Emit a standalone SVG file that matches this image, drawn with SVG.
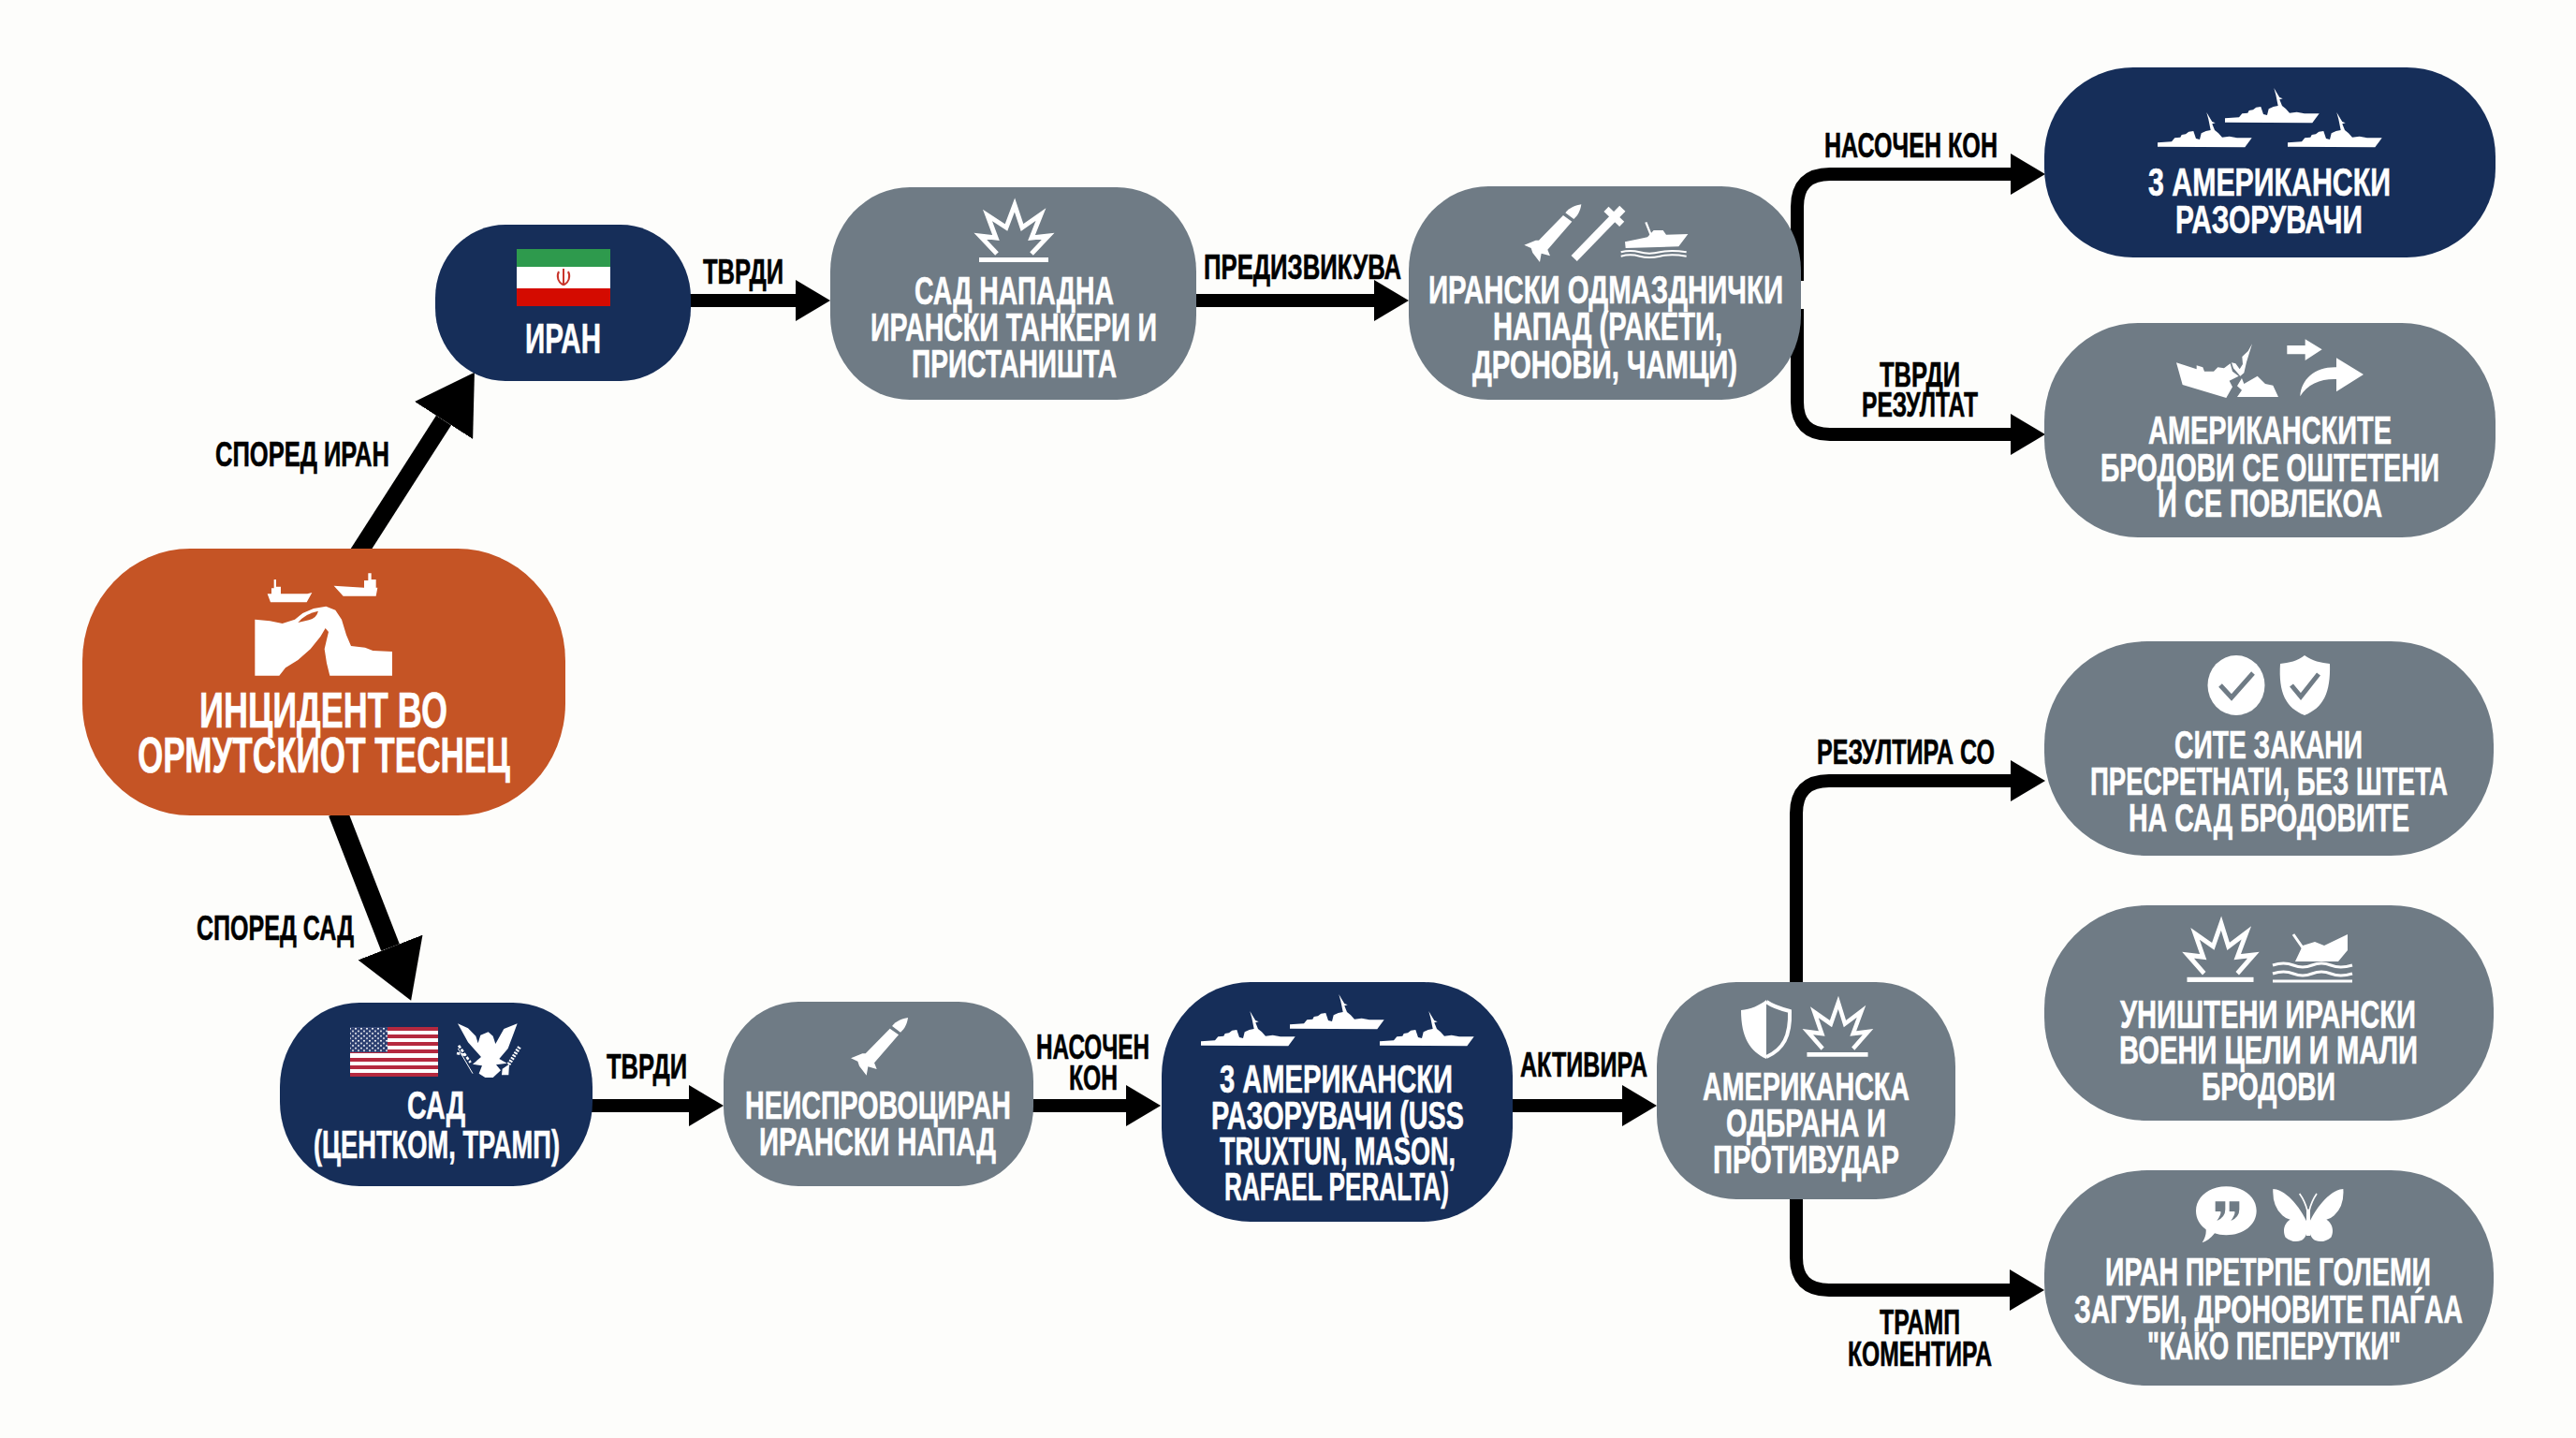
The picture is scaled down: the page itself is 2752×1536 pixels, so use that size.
<svg xmlns="http://www.w3.org/2000/svg" width="2752" height="1536" viewBox="0 0 2752 1536">
<style>
text{font-family:"Liberation Sans Narrow","Liberation Sans",Arial,sans-serif;font-weight:700}
.t{fill:#fff;stroke:#fff;stroke-width:.6px;font-size:42px}
.l{fill:#000;stroke:#000;stroke-width:.6px;font-size:37px}
.navy{fill:#162e59}.gray{fill:#6f7b85}.orange{fill:#c55425}
.conn{fill:none;stroke:#000;stroke-width:14}
.w{fill:#fff}.wl{fill:none;stroke:#fff}.gl{fill:none;stroke:#6f7b85}
</style>
<defs>
<marker id="ah" markerUnits="userSpaceOnUse" markerWidth="38" markerHeight="44" refX="0" refY="22" orient="auto"><path d="M0 0L37 22L0 44Z"/></marker>
<marker id="ab" markerUnits="userSpaceOnUse" markerWidth="62" markerHeight="74" refX="0" refY="37" orient="auto"><path d="M0 0L61 37L0 74Z"/></marker>
<path id="ship" d="M0 32.300L15 31.300L18.300 27.300L24.300 26.700L25.700 24L30 23.300L33.300 20.700L38.300 20L41 28L45 29L46.700 22.300L51.700 20L56.700 19L54.300 7.300L52.300 0L55.700 5.700L58.300 10L61.700 11.300L58.300 12.300L61 19L65 22.300L69 26.700L76.700 25.700L85 27.300H100.700L93.300 37.300L0 36.700Z"/>
<g id="burst"><path class="wl" stroke-width="5" stroke-miterlimit="10" d="M-18 56L-36 37L-19 39L-28 15L-8 28L1 4L9 28L29 14L19 39L37 37L19 56"/><rect class="w" x="-37" y="60" width="74" height="5"/></g>
<g id="rocket"><path class="w" d="M157 52C170 35 190 28 208 25C205 45 198 60 184 72Z"/><path class="w" d="M150 60L178 80L100 170L108 190L80 182L75 210L52 180L47 165L25 155L62 140L72 140Z"/></g>
<pattern id="stars" patternUnits="userSpaceOnUse" width="6" height="5.200"><circle cx="2" cy="1.600" r="1" fill="#fff"/><circle cx="5" cy="4.200" r="1" fill="#fff"/></pattern>
</defs>
<rect width="2752" height="1536" fill="#fdfdfb"/>
<g id="connectors">
<path class="conn" style="stroke-width:19" marker-end="url(#ab)" d="M381 594L474 449"/>
<path class="conn" style="stroke-width:21" marker-end="url(#ab)" d="M361 868L417 1012"/>
<path class="conn" marker-end="url(#ah)" d="M730 321H850"/>
<path class="conn" marker-end="url(#ah)" d="M1270 321H1468"/>
<path class="conn" marker-end="url(#ah)" d="M1920 300V221Q1920 186 1955 186H2148"/>
<path class="conn" marker-end="url(#ah)" d="M1920 330V429Q1920 464 1955 464H2148"/>
<path class="conn" marker-end="url(#ah)" d="M625 1181H736"/>
<path class="conn" marker-end="url(#ah)" d="M1096 1181H1203"/>
<path class="conn" marker-end="url(#ah)" d="M1610 1181H1733"/>
<path class="conn" marker-end="url(#ah)" d="M1919 1060V869Q1919 834 1954 834H2148"/>
<path class="conn" marker-end="url(#ah)" d="M1919 1270V1343Q1919 1378 1954 1378H2147"/>
</g>
<g id="edge-labels">
<text class="l" x="230" y="498" textLength="186" lengthAdjust="spacingAndGlyphs">СПОРЕД ИРАН</text>
<text class="l" x="210" y="1004" textLength="168" lengthAdjust="spacingAndGlyphs">СПОРЕД САД</text>
<text class="l" x="751" y="303" textLength="86" lengthAdjust="spacingAndGlyphs">ТВРДИ</text>
<text class="l" x="1286" y="298" textLength="211" lengthAdjust="spacingAndGlyphs">ПРЕДИЗВИКУВА</text>
<text class="l" x="1949" y="168" textLength="185" lengthAdjust="spacingAndGlyphs">НАСОЧЕН КОН</text>
<text class="l" x="2008" y="413" textLength="86" lengthAdjust="spacingAndGlyphs">ТВРДИ</text>
<text class="l" x="1989" y="445" textLength="124" lengthAdjust="spacingAndGlyphs">РЕЗУЛТАТ</text>
<text class="l" x="648" y="1152" textLength="86" lengthAdjust="spacingAndGlyphs">ТВРДИ</text>
<text class="l" x="1107" y="1131" textLength="121" lengthAdjust="spacingAndGlyphs">НАСОЧЕН</text>
<text class="l" x="1142" y="1164" textLength="52" lengthAdjust="spacingAndGlyphs">КОН</text>
<text class="l" x="1624" y="1150" textLength="136" lengthAdjust="spacingAndGlyphs">АКТИВИРА</text>
<text class="l" x="1941" y="816" textLength="190" lengthAdjust="spacingAndGlyphs">РЕЗУЛТИРА СО</text>
<text class="l" x="2008" y="1425" textLength="86" lengthAdjust="spacingAndGlyphs">ТРАМП</text>
<text class="l" x="1974" y="1459" textLength="154" lengthAdjust="spacingAndGlyphs">КОМЕНТИРА</text>
</g>
<g id="node-incident">
<rect class="orange" x="88" y="586" width="516" height="285" rx="115" ry="120"/>
<g transform="translate(265 605) scale(.33333)">
<path class="w" d="M22 170L70 175L110 183L150 170L175 150L210 135L250 128L280 140L300 170L315 220L330 255L375 260L400 270L462 273V350H262L252 310L245 265L252 235L258 210L248 198L232 225L200 265L160 300L120 325L100 350H22Z"/>
<path class="orange" d="M160 180Q185 150 225 143Q220 165 195 172Z"/>
<path class="w" d="M62 88H75V70H83V42H90V65H105V88H190L205 84L188 115H72Z"/>
<path class="w" d="M275 62L372 68V45H385V22H395V42H410V68H415L410 95H305Z"/>
</g>
<text class="t" style="font-size:53px" x="213" y="777" textLength="265" lengthAdjust="spacingAndGlyphs">ИНЦИДЕНТ ВО</text>
<text class="t" style="font-size:53px" x="147" y="825" textLength="398" lengthAdjust="spacingAndGlyphs">ОРМУТСКИОТ ТЕСНЕЦ</text>
</g>
<g id="node-iran">
<rect class="navy" x="465" y="240" width="273" height="167" rx="75" ry="78"/>
<rect x="552" y="266" width="100" height="19" fill="#2e9a4d"/><rect x="552" y="285" width="100" height="23" fill="#fff"/><rect x="552" y="308" width="100" height="19" fill="#d40b00"/>
<path fill="none" stroke="#c8352b" stroke-width="2" d="M602 287V305M597 290C594 296 597 302 601 304M607 290C610 296 607 302 603 304"/>
<text class="t" style="font-size:45px" x="561" y="377" textLength="81" lengthAdjust="spacingAndGlyphs">ИРАН</text>
</g>
<g id="node-us-attack">
<rect class="gray" x="887" y="200" width="391" height="227" rx="85" ry="90"/>
<use href="#burst" transform="translate(1083 215)"/>
<text class="t" x="977" y="325" textLength="213" lengthAdjust="spacingAndGlyphs">САД НАПАДНА</text>
<text class="t" x="930" y="364" textLength="306" lengthAdjust="spacingAndGlyphs">ИРАНСКИ ТАНКЕРИ И</text>
<text class="t" x="974" y="403" textLength="219" lengthAdjust="spacingAndGlyphs">ПРИСТАНИШТА</text>
</g>
<g id="node-retaliation">
<rect class="gray" x="1505" y="199" width="419" height="228" rx="85" ry="90"/>
<g transform="translate(1620 210) scale(.33333)">
<use href="#rocket"/>
<path class="wl" stroke-width="26" d="M185 198L340 38"/>
<path class="wl" stroke-width="22" d="M288 40L338 88"/>
<path class="wl" stroke-width="7" d="M415 82L432 125"/>
<path class="w" d="M348 145L420 130L440 108L470 108L480 122L550 120L520 160L350 165Z"/>
<path class="wl" stroke-width="6" d="M335 178Q365 170 395 178T460 178T545 178M335 191Q365 183 395 191T460 191T545 191"/>
</g>
<text class="t" x="1526" y="324" textLength="379" lengthAdjust="spacingAndGlyphs">ИРАНСКИ ОДМАЗДНИЧКИ</text>
<text class="t" x="1595" y="363" textLength="245" lengthAdjust="spacingAndGlyphs">НАПАД (РАКЕТИ,</text>
<text class="t" x="1573" y="404" textLength="283" lengthAdjust="spacingAndGlyphs">ДРОНОВИ, ЧАМЦИ)</text>
</g>
<g id="node-destroyers-top">
<rect class="navy" x="2184" y="72" width="482" height="203" rx="95" ry="95"/>
<use href="#ship" class="w" transform="translate(2377 94)"/>
<use href="#ship" class="w" transform="translate(2305 120)"/>
<use href="#ship" class="w" transform="translate(2444 120)"/>
<text class="t" x="2295" y="209" textLength="259" lengthAdjust="spacingAndGlyphs">3 АМЕРИКАНСКИ</text>
<text class="t" x="2324" y="249" textLength="200" lengthAdjust="spacingAndGlyphs">РАЗОРУВАЧИ</text>
</g>
<g id="node-damaged">
<rect class="gray" x="2184" y="345" width="482" height="229" rx="100" ry="105"/>
<g transform="translate(2310 355) scale(.33333)">
<path class="w" d="M45 97L110 118L110 106L130 112L135 125L165 125L178 112L198 115L218 100L225 125L245 140L215 155L225 175L205 210L65 168Z"/>
<path class="w" d="M288 37L270 95L262 130L250 140L228 115L222 97L235 100L248 118L258 102L256 78L275 60Z"/>
<path class="w" d="M255 147L262 165L305 140L330 165L355 170L372 207H240L255 185L240 172Z"/>
<path class="w" d="M400 42H458V22L512 55L458 90V70H400Z"/>
<path class="w" d="M442 205C445 150 490 110 558 112V82L645 135L558 190V150C510 148 465 165 442 205Z"/>
</g>
<text class="t" x="2295" y="474" textLength="260" lengthAdjust="spacingAndGlyphs">АМЕРИКАНСКИТЕ</text>
<text class="t" x="2244" y="514" textLength="362" lengthAdjust="spacingAndGlyphs">БРОДОВИ СЕ ОШТЕТЕНИ</text>
<text class="t" x="2305" y="552" textLength="240" lengthAdjust="spacingAndGlyphs">И СЕ ПОВЛЕКОА</text>
</g>
<g id="node-usa">
<rect class="navy" x="299" y="1071" width="334" height="196" rx="85" ry="90"/>
<rect x="374" y="1097" width="94" height="53" fill="#fff"/>
<path fill="none" stroke="#b5293f" stroke-width="4.100" d="M374 1099H468M374 1107H468M374 1115H468M374 1123H468M374 1132H468M374 1140H468M374 1148H468"/>
<rect x="374" y="1097" width="40" height="27" fill="#2c3f70"/><rect x="374" y="1097" width="40" height="27" fill="url(#stars)"/>
<g transform="translate(480 1085) scale(.33333)">
<path class="w" d="M27 25L60 40L85 65L92 88L100 62L125 52L140 65L148 90L175 42L218 25L205 60L188 105L160 138L185 152L150 157L165 175L140 198H115L95 185L105 160L75 155L102 132L60 85Z"/>
<path class="wl" stroke-width="3" d="M28 105L75 185"/>
<path class="wl" stroke-width="8" stroke-dasharray="10 5" d="M24 120L50 125M30 95L68 150"/>
<path class="wl" stroke-width="12" stroke-dasharray="6 4" d="M225 100L188 160"/>
<path class="w" d="M170 170L192 155L190 190L168 190Z"/>
</g>
<text class="t" x="435" y="1195" textLength="62" lengthAdjust="spacingAndGlyphs">САД</text>
<text class="t" x="335" y="1237" textLength="263" lengthAdjust="spacingAndGlyphs">(ЦЕНТКОМ, ТРАМП)</text>
</g>
<g id="node-unprovoked">
<rect class="gray" x="773" y="1070" width="331" height="197" rx="80" ry="85"/>
<use href="#rocket" transform="translate(900.700 1078.700) scale(.33333)"/>
<text class="t" x="796" y="1195" textLength="284" lengthAdjust="spacingAndGlyphs">НЕИСПРОВОЦИРАН</text>
<text class="t" x="811" y="1234" textLength="253" lengthAdjust="spacingAndGlyphs">ИРАНСКИ НАПАД</text>
</g>
<g id="node-destroyers-bottom">
<rect class="navy" x="1241" y="1049" width="375" height="256" rx="95" ry="100"/>
<use href="#ship" class="w" transform="translate(1378 1062)"/>
<use href="#ship" class="w" transform="translate(1283 1080)"/>
<use href="#ship" class="w" transform="translate(1474 1080)"/>
<text class="t" x="1303" y="1167" textLength="249" lengthAdjust="spacingAndGlyphs">3 АМЕРИКАНСКИ</text>
<text class="t" x="1294" y="1206" textLength="270" lengthAdjust="spacingAndGlyphs">РАЗОРУВАЧИ (USS</text>
<text class="t" x="1303" y="1244" textLength="252" lengthAdjust="spacingAndGlyphs">TRUXTUN, MASON,</text>
<text class="t" x="1308" y="1282" textLength="240" lengthAdjust="spacingAndGlyphs">RAFAEL PERALTA)</text>
</g>
<g id="node-defense">
<rect class="gray" x="1770" y="1049" width="319" height="232" rx="85" ry="90"/>
<path class="w" d="M1887 1068V1131C1870 1123 1860 1109 1860 1079C1870 1078 1880 1074 1887 1068Z"/>
<path class="wl" stroke-width="4" d="M1887 1070C1894 1075 1904 1078 1912 1080C1913 1107 1905 1121 1887 1129"/>
<use href="#burst" transform="translate(1963 1067) scale(.88 .95)"/>
<text class="t" x="1819" y="1175" textLength="221" lengthAdjust="spacingAndGlyphs">АМЕРИКАНСКА</text>
<text class="t" x="1844" y="1214" textLength="171" lengthAdjust="spacingAndGlyphs">ОДБРАНА И</text>
<text class="t" x="1830" y="1253" textLength="199" lengthAdjust="spacingAndGlyphs">ПРОТИВУДАР</text>
</g>
<g id="node-intercepted">
<rect class="gray" x="2184" y="685" width="480" height="229" rx="110" ry="110"/>
<ellipse class="w" cx="2389" cy="732" rx="30.500" ry="32"/>
<path class="gl" stroke-width="5" d="M2372 732L2384 745L2407 719"/>
<path class="w" d="M2462 700C2470 706 2480 708 2489 709C2490 740 2482 756 2462 764C2442 756 2434 740 2436 709C2445 708 2455 706 2462 700Z"/>
<path class="gl" stroke-width="5" d="M2448 732L2458 744L2477 720"/>
<text class="t" x="2323" y="810" textLength="201" lengthAdjust="spacingAndGlyphs">СИТЕ ЗАКАНИ</text>
<text class="t" x="2233" y="849" textLength="382" lengthAdjust="spacingAndGlyphs">ПРЕСРЕТНАТИ, БЕЗ ШТЕТА</text>
<text class="t" x="2274" y="888" textLength="300" lengthAdjust="spacingAndGlyphs">НА САД БРОДОВИТЕ</text>
</g>
<g id="node-destroyed">
<rect class="gray" x="2184" y="967" width="480" height="230" rx="110" ry="110"/>
<use href="#burst" transform="translate(2372 982) scale(.96 1.030)"/>
<path class="w" d="M2460 1010L2473 1006L2483 1010L2508 998V1015L2498 1027H2452Z"/>
<path class="wl" stroke-width="3" d="M2450 998L2464 1018M2428 1031Q2440 1027 2450 1031T2470 1031T2490 1031T2513 1031M2428 1040Q2440 1036 2450 1040T2470 1040T2490 1040T2513 1040M2428 1048H2513"/>
<text class="t" x="2265" y="1098" textLength="316" lengthAdjust="spacingAndGlyphs">УНИШТЕНИ ИРАНСКИ</text>
<text class="t" x="2264" y="1136" textLength="319" lengthAdjust="spacingAndGlyphs">ВОЕНИ ЦЕЛИ И МАЛИ</text>
<text class="t" x="2352" y="1175" textLength="143" lengthAdjust="spacingAndGlyphs">БРОДОВИ</text>
</g>
<g id="node-trump">
<rect class="gray" x="2184" y="1250" width="480" height="230" rx="110" ry="110"/>
<g transform="translate(2340 1260) scale(.33333)">
<path class="w" d="M115 22C170 22 212 55 212 100C212 145 170 178 115 178C100 178 88 175 78 172Q60 195 38 202Q52 180 50 160C30 145 18 125 18 100C18 55 60 22 115 22Z"/>
<path class="gray" d="M80 70H112V95Q112 120 85 132Q100 110 97 102H80ZM125 70H157V95Q157 120 130 132Q145 110 142 102H125Z"/>
<path class="w" d="M378 145C350 80 300 30 265 30Q262 85 295 115Q305 125 320 128C300 140 295 165 305 185Q330 205 355 195C368 190 375 175 378 145Z"/>
<path class="w" d="M378 145C406 80 456 30 490 30Q494 85 461 115Q451 125 436 128C456 140 461 165 451 185Q426 205 401 195C388 190 381 175 378 145Z"/>
<rect class="w" x="372" y="95" width="12" height="85"/>
<path class="wl" stroke-width="5" d="M350 45Q368 70 375 100M405 45Q388 70 381 100"/>
</g>
<text class="t" x="2249" y="1373" textLength="348" lengthAdjust="spacingAndGlyphs">ИРАН ПРЕТРПЕ ГОЛЕМИ</text>
<text class="t" x="2216" y="1413" textLength="415" lengthAdjust="spacingAndGlyphs">ЗАГУБИ, ДРОНОВИТЕ ПАЃАА</text>
<text class="t" x="2294" y="1452" textLength="271" lengthAdjust="spacingAndGlyphs">"КАКО ПЕПЕРУТКИ"</text>
</g>
</svg>
